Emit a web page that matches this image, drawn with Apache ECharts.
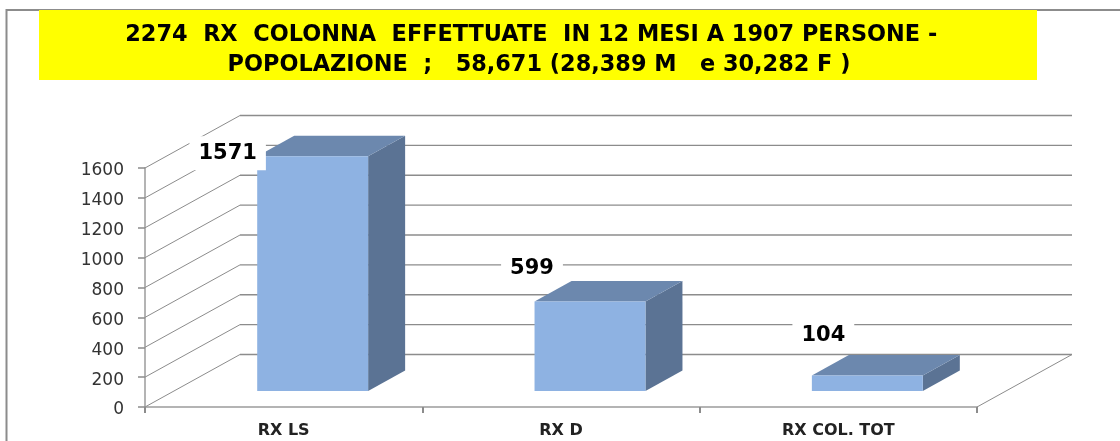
<!DOCTYPE html>
<html><head><meta charset="utf-8">
<style>html,body{margin:0;padding:0;background:#fff}#c{width:1120px;height:441px}</style>
<script src="https://cdn.jsdelivr.net/npm/echarts@6/dist/echarts.min.js"></script>
</head><body><div id="c"></div>
<script>
const categories = ['RX LS', 'RX D', 'RX COL. TOT'];
const values = [1571, 599, 104];
const yTicks = [0, 200, 400, 600, 800, 1000, 1200, 1400, 1600];
const titleLines = ['2274  RX  COLONNA  EFFETTUATE  IN 12 MESI A 1907 PERSONE -  ', 'POPOLAZIONE  ;   58,671 (28,389 M   e 30,282 F )'];

// 3D projection layout (pixels)
const WALL = {dx: 95, dy: 52.5};
const BAR_SHIFT = {dx: 29, dy: 16};
const BAR_DEPTH = {dx: 37, dy: 20.5};
const BAR_WIDTH_RATIO = 0.4;
const LABEL_SHIFT = [[-85, -3], [-58, -33], [-44, -40]];
const GRID_COLOR = '#8c8c8c', FRONT = '#8EB2E2', TOP = '#6C88AE', SIDE = '#5B7394';

const chart = echarts.init(document.getElementById('c'), null, {renderer: 'canvas'});

function renderWall(params, api) {
  const v = api.value(1);
  const p = api.coord([0, v]);
  const cs = params.coordSys;
  const x0 = cs.x, x1 = cs.x + cs.width, y = p[1];
  const line = (a, b, c, d, w) => ({type: 'line', shape: {x1: a, y1: b, x2: c, y2: d},
    style: {stroke: GRID_COLOR, lineWidth: w || 1}});
  const children = [
    line(x0, y, x0 + WALL.dx, y - WALL.dy),
    line(x0 + WALL.dx, y - WALL.dy, x1 + WALL.dx, y - WALL.dy, 1.3)
  ];
  if (v === 0) children.push(line(x1, y, x1 + WALL.dx, y - WALL.dy));
  return {type: 'group', children};
}

function renderBar(params, api) {
  const i = api.value(0), v = api.value(1);
  const base = api.coord([i, 0]), top = api.coord([i, v]);
  const w = api.size([1, 0])[0] * BAR_WIDTH_RATIO;
  const l = base[0] + BAR_SHIFT.dx - w / 2, r = l + w;
  const b = base[1] - BAR_SHIFT.dy, t = top[1] - BAR_SHIFT.dy;
  const d = BAR_DEPTH;
  const poly = (points, fill) => ({type: 'polygon', shape: {points}, style: {fill}});
  return {type: 'group', children: [
    poly([[r, t], [r + d.dx, t - d.dy], [r + d.dx, b - d.dy], [r, b]], SIDE),
    poly([[l, t], [l + d.dx, t - d.dy], [r + d.dx, t - d.dy], [r, t]], TOP),
    {type: 'rect', shape: {x: l, y: t, width: w, height: b - t}, style: {fill: FRONT}}
  ]};
}

function renderLabel(params, api) {
  const i = api.value(0), v = api.value(1);
  const top = api.coord([i, v]);
  const s = LABEL_SHIFT[i];
  return {type: 'text', x: top[0] + BAR_SHIFT.dx + s[0], y: top[1] - BAR_SHIFT.dy + s[1],
    style: {text: String(v), fill: '#000', font: 'bold 21px "DejaVu Sans"', align: 'center', verticalAlign: 'middle',
      backgroundColor: '#fff', padding: [8, 9, 5, 9]}};
}

chart.setOption({
  animation: false,
  backgroundColor: '#fff',
  title: {
    text: titleLines.join('\n'), left: 534, top: 15, textAlign: 'center',
    textStyle: {fontFamily: 'DejaVu Sans', fontWeight: 'bold', fontSize: 22.4, color: '#000', lineHeight: 30}
  },
  grid: {left: 145, top: 168, width: 832, height: 239},
  xAxis: {
    type: 'category', data: categories,
    axisLine: {lineStyle: {color: '#b4b4b4', width: 2}},
    axisTick: {show: true, length: 6, alignWithLabel: false, lineStyle: {color: '#8c8c8c', width: 2}},
    axisLabel: {color: '#222', fontFamily: 'DejaVu Sans', fontWeight: 'bold', fontSize: 16, margin: 16},
    splitLine: {show: false}
  },
  yAxis: {
    type: 'value', min: 0, max: 1600, interval: 200,
    axisLine: {show: true, lineStyle: {color: '#b4b4b4', width: 2}},
    axisTick: {show: true, length: 7, lineStyle: {color: '#8c8c8c', width: 1.5}},
    axisLabel: {color: '#333', fontFamily: 'DejaVu Sans', fontSize: 17, margin: 21, verticalAlign: 'top', lineHeight: 6,
      formatter: v => String(v)},
    splitLine: {show: false}
  },
  graphic: [
    {type: 'polyline', z: 0, shape: {points: [[1120, 10], [6.5, 10], [6.5, 441]]}, style: {stroke: '#8c8c8c', lineWidth: 2, fill: 'none'}},
    {type: 'rect', z: 1, shape: {x: 39, y: 10, width: 998, height: 70}, style: {fill: '#FFFF00'}}
  ],
  series: [
    {type: 'custom', z: 1, silent: true, renderItem: renderWall, data: yTicks.map(v => [0, v]), clip: false},
    {type: 'custom', z: 3, silent: true, renderItem: renderBar, data: values.map((v, i) => [i, v]), clip: false},
    {type: 'custom', z: 4, silent: true, renderItem: renderLabel, data: values.map((v, i) => [i, v]), clip: false}
  ]
});
</script></body></html>
